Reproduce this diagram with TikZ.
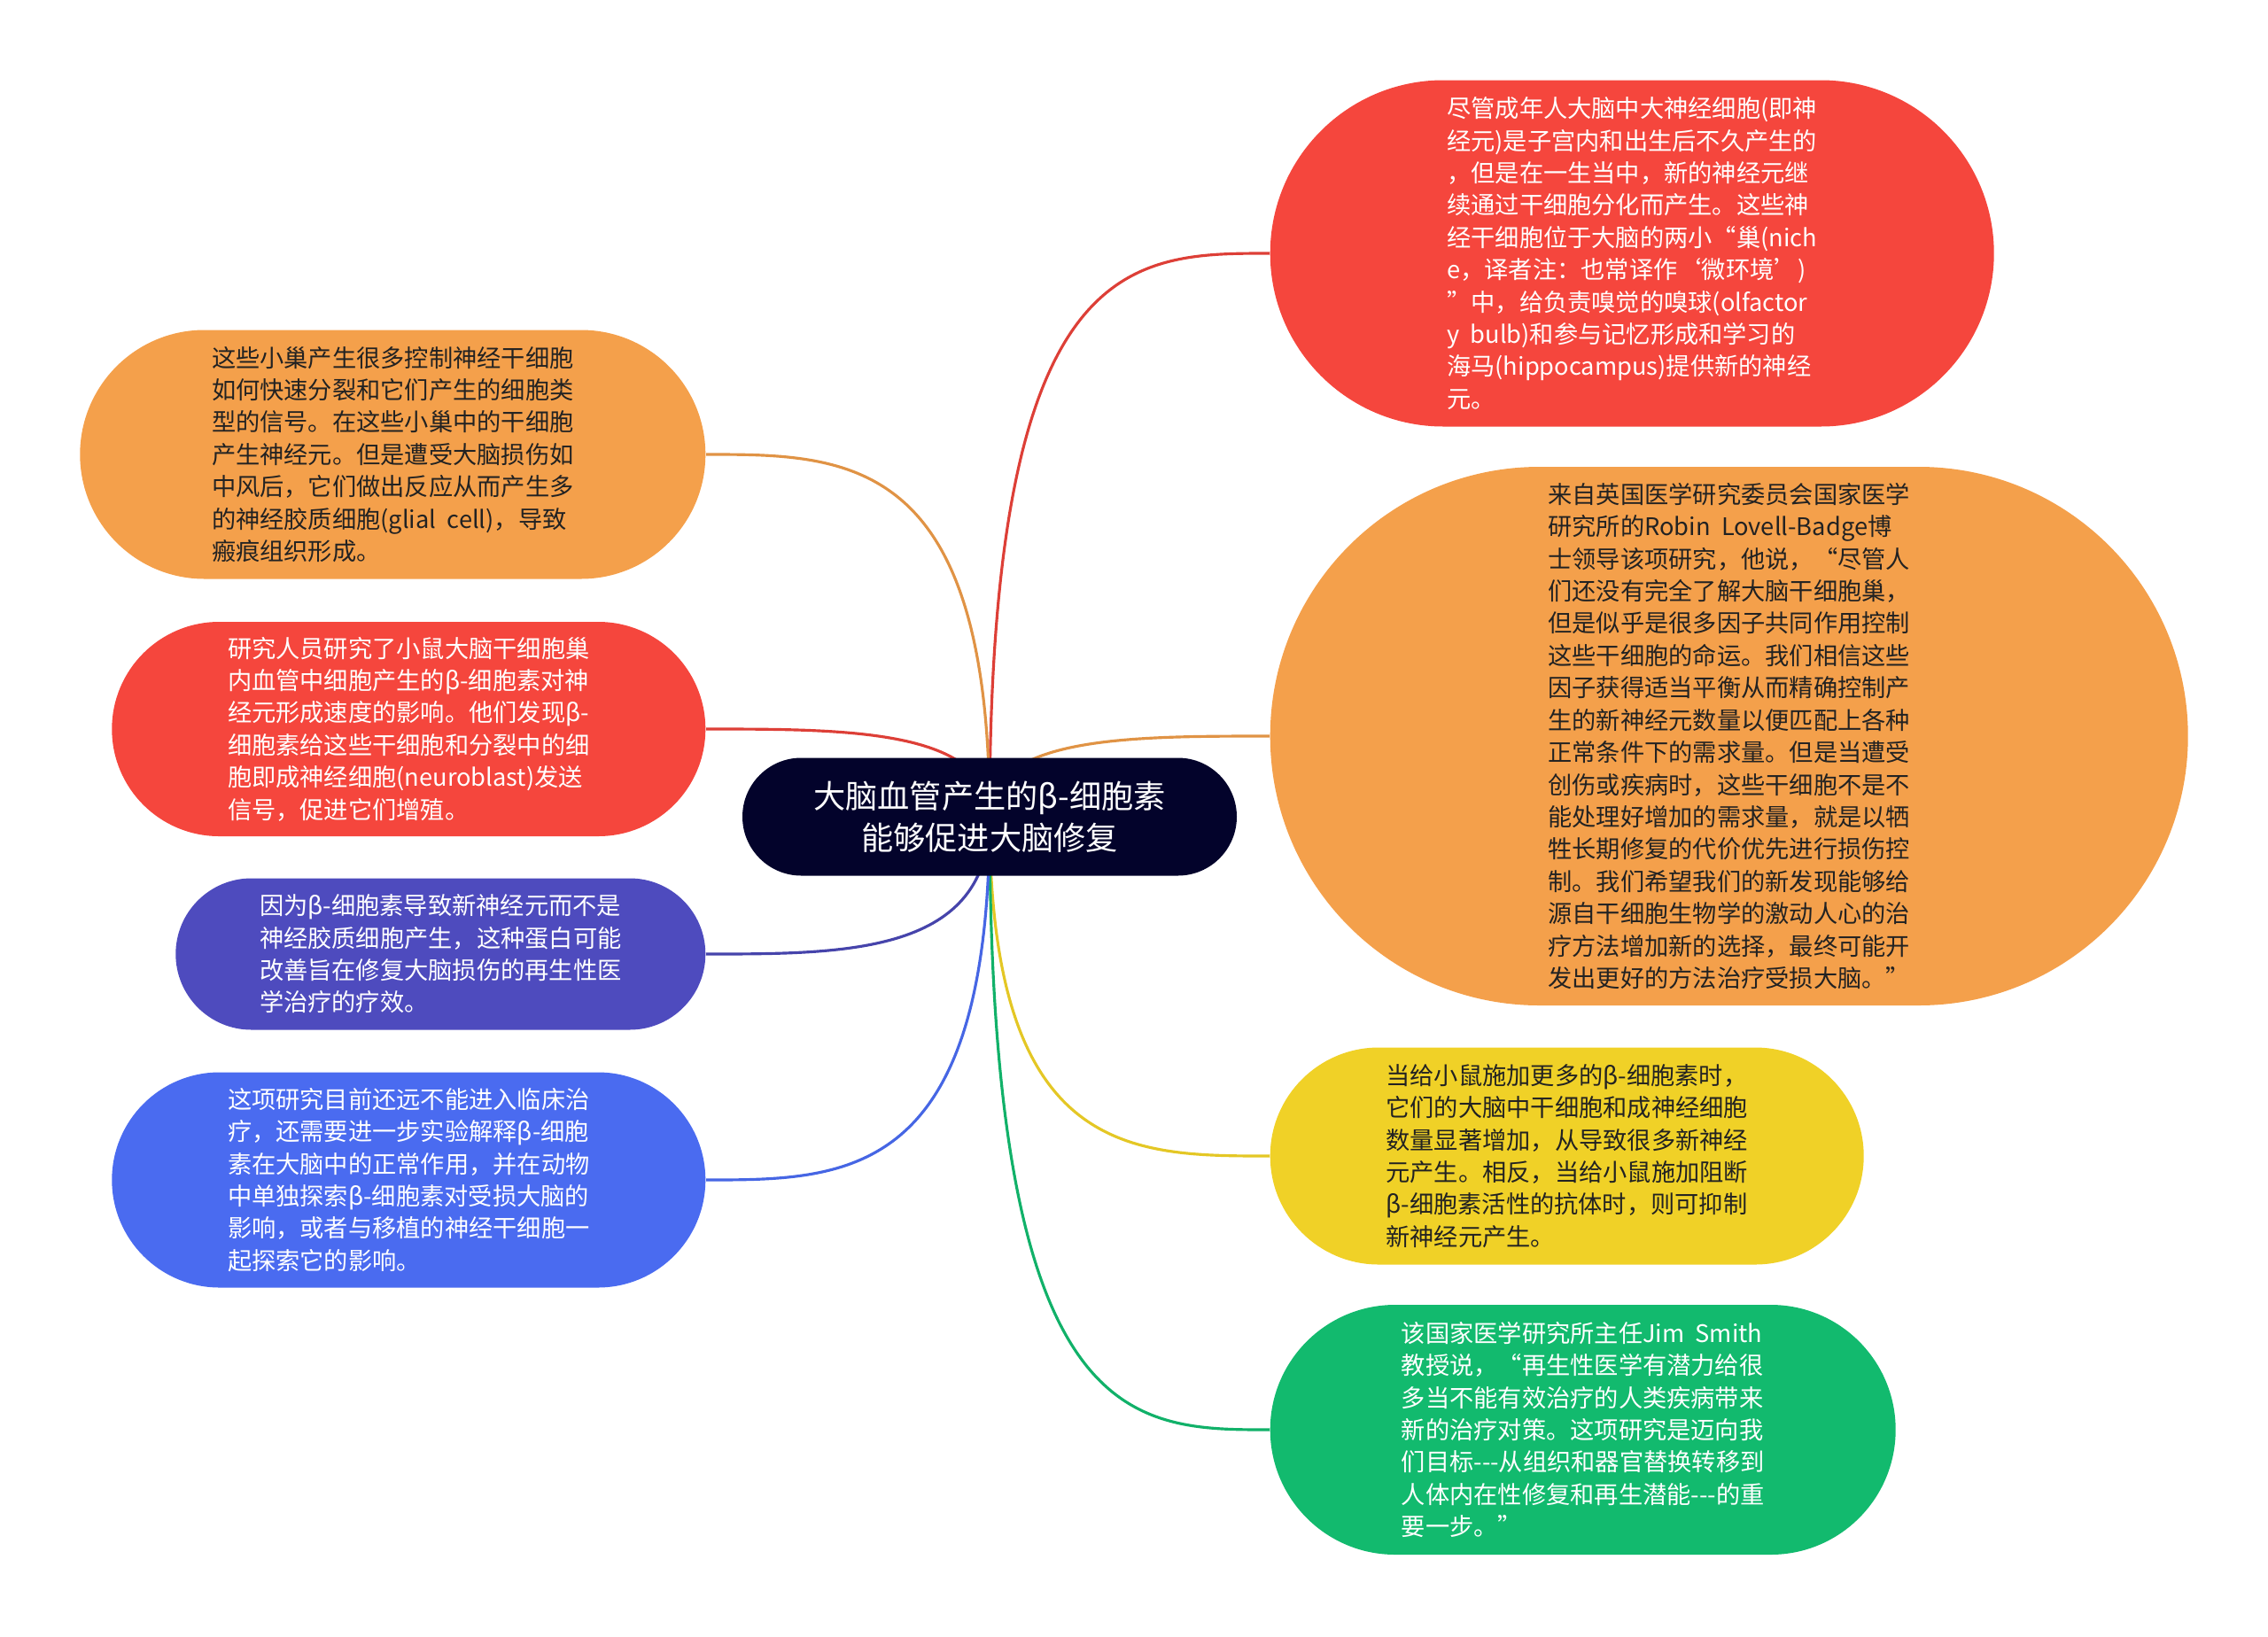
\documentclass[tikz,border=0pt]{standalone}
\usepackage{fontspec}
\setmainfont{Noto Sans CJK SC}
\usetikzlibrary{shapes.misc}
\usetikzlibrary{calc}
\usetikzlibrary{backgrounds}
\definecolor{cred}{HTML}{F5463D}
\definecolor{corange}{HTML}{F4A04B}
\definecolor{cyellow}{HTML}{F0D127}
\definecolor{cgreen}{HTML}{12BA6E}
\definecolor{cpurple}{HTML}{4E4BBE}
\definecolor{cblue}{HTML}{4A6BF0}
\definecolor{cnavy}{HTML}{03032B}
\definecolor{ctext}{HTML}{222222}
\newcommand{\linkto}[2]{\draw[line width=0.9pt, #1] (title.center) .. controls (title.center |- #2) and ($(title.center |- #2)!0.5!(#2)$) .. (#2);}
\tikzset{
  leaf/.style={rounded rectangle, inner sep=0pt, align=left, font=\fontsize{7.75}{10.36}\selectfont},
  darkleaf/.style={leaf, text=ctext},
  lightleaf/.style={leaf, text=white}
}

\begin{document}
\begin{tikzpicture}[scale=1]
	\useasboundingbox (0,0) rectangle (25.6,-18.47);
	%central topic
	\node[rounded rectangle, fill=cnavy, text=white, align=center, minimum width=5.58cm, minimum height=1.33cm, inner sep=0pt, font=\fontsize{10.3}{13.5}\selectfont] (title) at (11.17,-9.22) {大脑血管产生的β-细胞素\\能够促进大脑修复};
	%right side
	\node[lightleaf, fill=cred, minimum width=8.17cm, minimum height=3.91cm, anchor=west] (niche) at (14.33,-2.86) {尽管成年人大脑中大神经细胞(即神\\经元)是子宫内和出生后不久产生的\\，但是在一生当中，新的神经元继\\续通过干细胞分化而产生。这些神\\经干细胞位于大脑的两小“巢(nich\\e，译者注：也常译作‘微环境’)\\”中，给负责嗅觉的嗅球(olfactor\\y\ \ bulb)和参与记忆形成和学习的\\海马(hippocampus)提供新的神经\\元。};
	\node[darkleaf, fill=corange, minimum width=10.36cm, minimum height=6.08cm, anchor=west] (quote) at (14.33,-8.31) {来自英国医学研究委员会国家医学\\研究所的Robin\ \ Lovell-Badge博\\士领导该项研究，他说，“尽管人\\们还没有完全了解大脑干细胞巢，\\但是似乎是很多因子共同作用控制\\这些干细胞的命运。我们相信这些\\因子获得适当平衡从而精确控制产\\生的新神经元数量以便匹配上各种\\正常条件下的需求量。但是当遭受\\创伤或疾病时，这些干细胞不是不\\能处理好增加的需求量，就是以牺\\牲长期修复的代价优先进行损伤控\\制。我们希望我们的新发现能够给\\源自干细胞生物学的激动人心的治\\疗方法增加新的选择，最终可能开\\发出更好的方法治疗受损大脑。”};
	\node[darkleaf, fill=cyellow, minimum width=6.70cm, minimum height=2.45cm, anchor=west] (boost) at (14.33,-13.05) {当给小鼠施加更多的β-细胞素时，\\它们的大脑中干细胞和成神经细胞\\数量显著增加，从导致很多新神经\\元产生。相反，当给小鼠施加阻断\\β-细胞素活性的抗体时，则可抑制\\新神经元产生。};
	\node[lightleaf, fill=cgreen, minimum width=7.06cm, minimum height=2.82cm, anchor=west] (smith) at (14.33,-16.14) {该国家医学研究所主任Jim\ \ Smith\\教授说，“再生性医学有潜力给很\\多当不能有效治疗的人类疾病带来\\新的治疗对策。这项研究是迈向我\\们目标-\kern0pt-\kern0pt-从组织和器官替换转移到\\人体内在性修复和再生潜能-\kern0pt-\kern0pt-的重\\要一步。”};
	%left side
	\node[darkleaf, fill=corange, minimum width=7.06cm, minimum height=2.81cm, anchor=east] (signals) at (7.97,-5.13) {这些小巢产生很多控制神经干细胞\\如何快速分裂和它们产生的细胞类\\型的信号。在这些小巢中的干细胞\\产生神经元。但是遭受大脑损伤如\\中风后，它们做出反应从而产生多\\的神经胶质细胞(glial\ \ cell)，导致\\瘢痕组织形成。};
	\node[lightleaf, fill=cred, minimum width=6.70cm, minimum height=2.42cm, anchor=east] (neuro) at (7.97,-8.23) {研究人员研究了小鼠大脑干细胞巢\\内血管中细胞产生的β-细胞素对神\\经元形成速度的影响。他们发现β-\\细胞素给这些干细胞和分裂中的细\\胞即成神经细胞(neuroblast)发送\\信号，促进它们增殖。};
	\node[lightleaf, fill=cpurple, minimum width=5.98cm, minimum height=1.71cm, anchor=east] (therapy) at (7.97,-10.77) {因为β-细胞素导致新神经元而不是\\神经胶质细胞产生，这种蛋白可能\\改善旨在修复大脑损伤的再生性医\\学治疗的疗效。};
	\node[lightleaf, fill=cblue, minimum width=6.70cm, minimum height=2.43cm, anchor=east] (future) at (7.97,-13.32) {这项研究目前还远不能进入临床治\\疗，还需要进一步实验解释β-细胞\\素在大脑中的正常作用，并在动物\\中单独探索β-细胞素对受损大脑的\\影响，或者与移植的神经干细胞一\\起探索它的影响。};
	%branches
	\begin{scope}[on background layer]
		\linkto{cred!90!black}{niche.west}
		\linkto{corange!92!black}{quote.west}
		\linkto{cyellow!95!black}{boost.west}
		\linkto{cgreen!95!black}{smith.west}
		\linkto{corange!92!black}{signals.east}
		\linkto{cred!90!black}{neuro.east}
		\linkto{cpurple!90!black}{therapy.east}
		\linkto{cblue!95!black}{future.east}
	\end{scope}
\end{tikzpicture}
\end{document}
